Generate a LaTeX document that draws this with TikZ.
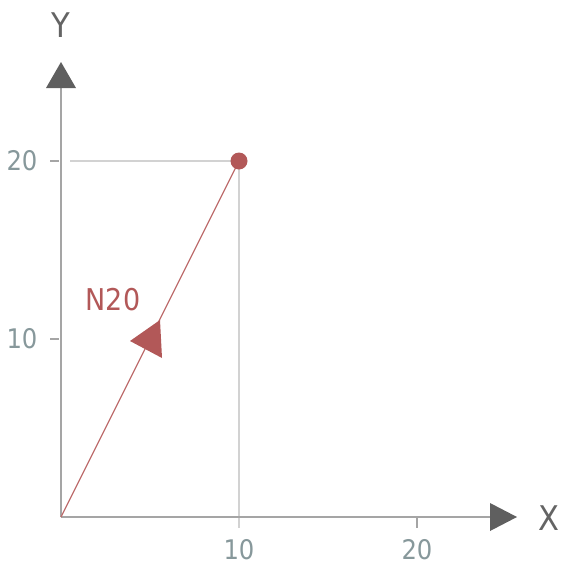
\documentclass[tikz,border=0pt]{standalone}
\usepackage{fontspec}
\setmainfont{DejaVu Sans Condensed}
\begin{document}
\begin{tikzpicture}[x=1pt,y=-1pt,
  axis/.style={draw=axisgray,line width=2pt},
  gridline/.style={draw=gridgray,line width=1.5pt},
  tick/.style={draw=axisgray,line width=1.5pt},
  ticklabel/.style={text=tickcol,font=\fontsize{27}{27}\selectfont,inner sep=0pt},
  axislabel/.style={text=labgray,font=\fontsize{34}{34}\selectfont,inner sep=0pt},
  head/.style={fill=headgray,draw=none}]
\definecolor{axisgray}{RGB}{165,165,165}
\definecolor{gridgray}{RGB}{210,210,210}
\definecolor{tickcol}{RGB}{135,152,155}
\definecolor{labgray}{RGB}{100,100,100}
\definecolor{headgray}{RGB}{95,95,95}
\definecolor{vecred}{RGB}{178,88,88}
\definecolor{linered}{RGB}{190,110,110}
\useasboundingbox (0,0) rectangle (565,565);
\coordinate (O) at (61,517);
\coordinate (P) at (239,161);
\coordinate (xend) at (492,517);
\coordinate (yend) at (61,86);
% grid
\draw[gridline] (70,161) -- (P);
\draw[gridline] (P) -- (239,528);
% ticks
\draw[tick] (50,161) -- (59,161);
\draw[tick] (50,339) -- (59,339);
\draw[tick] (417,517) -- (417,528);
% axes
\draw[axis] (O) -- (xend);
\draw[axis] (O) -- (yend);
\path[head] (517,517) -- (490,503) -- (490,531) -- cycle;
\path[head] (61,62) -- (46,88) -- (76,88) -- cycle;
% labels
\node[axislabel] (xl) at (549,518) {X};
\node[axislabel] (yl) at (61,25) {Y};
\node[ticklabel] (t20y) at (22,161) {20};
\node[ticklabel] (t10y) at (22,339) {10};
\node[ticklabel] (t10x) at (239,550) {10};
\node[ticklabel] (t20x) at (417,550) {20};
% vector
\draw[linered,line width=1.3pt] (O) -- (P);
\fill[vecred] (P) circle (8.5);
\fill[vecred] (130,341) -- (160,320) -- (162,358) -- cycle;
\node[text=vecred,font=\fontsize{30}{30}\selectfont,inner sep=0pt] (lab) at (113,300) {N20};
\end{tikzpicture}
\end{document}
